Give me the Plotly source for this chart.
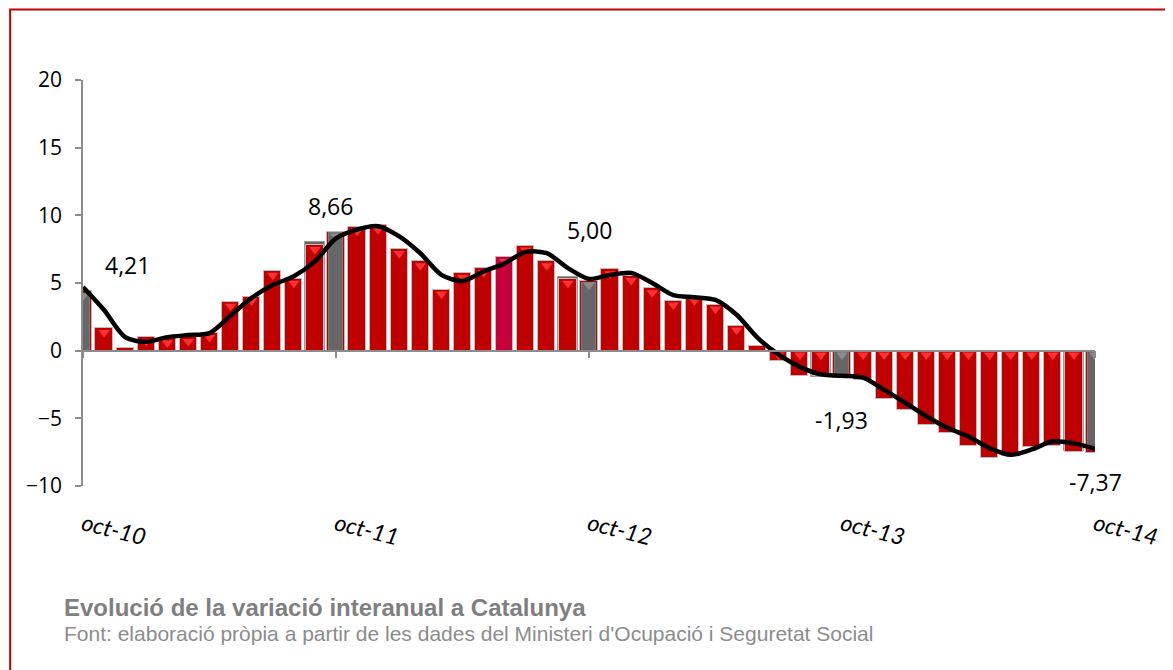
import plotly.graph_objects as go

# ---------------- data ----------------
tick_idx = [0, 12, 24, 36, 48]
tick_labels = ["oct-10", "oct-11", "oct-12", "oct-13", "oct-14"]

# monthly values oct-10 .. oct-14 (49 months), red series
red_vals = [4.38, 1.67, 0.2, 1.0, 0.9, 1.0, 1.3, 3.6, 4.0, 5.9, 5.3, 7.8,
            8.8, 9.15, 9.25, 7.5, 6.6, 4.5, 5.75, 6.1, 6.9, 7.75, 6.6, 5.3,
            5.15, 6.0, 5.5, 4.6, 3.7, 4.0, 3.4, 1.85, 0.35, -0.8, -1.9, -1.9,
            -2.05, -2.15, -3.6, -4.35, -5.5, -6.1, -7.05, -7.95, -7.8, -7.1, -7.05, -7.5,
            -7.55]

# gray series: september (behind) and october (in front) values
gray_sep_idx = [11, 23, 35, 47]
gray_sep_vals = [8.03, 5.42, -1.97, -7.43]
gray_oct_idx = [0, 12, 24, 36, 48]
gray_oct_vals = [4.21, 8.66, 5.00, -1.93, -7.37]
gray_oct_text = ["4,21", "8,66", "5,00", "-1,93", "-7,37"]

# smoothed trend line
line_vals = [4.7, 3.0, 1.0, 0.65, 1.0, 1.15, 1.3, 2.6, 3.9, 4.85, 5.5, 6.6,
             8.3, 8.95, 9.2, 8.45, 7.2, 5.6, 5.15, 5.85, 6.45, 7.3, 7.2, 6.1,
             5.3, 5.6, 5.75, 5.0, 4.1, 3.95, 3.75, 2.65, 0.95, -0.3, -1.2, -1.75,
             -1.85, -2.0, -2.9, -3.85, -4.85, -5.7, -6.35, -7.2, -7.7, -7.3, -6.7, -6.85,
             -7.25]

title_text = "Evolució de la variació interanual a Catalunya"
source_text = "Font: elaboració pròpia a partir de les dades del Ministeri d'Ocupació i Seguretat Social"

# ---------------- layout geometry ----------------
OFF = 8                      # page body margin in the browser
W, H = 1173 - OFF, 670 - OFF
ML, MT = 83 - OFF, 80 - OFF
MR = (OFF + W) - 1104
MB = (OFF + H) - 486
YMIN, YMAX = -10, 20
months = list(range(len(red_vals)))

def px2x(px):
    return (px - OFF - ML) / (W - ML - MR)

def py2y(py):
    return (OFF + H - MB - py) / (H - MT - MB)

RED = "#C00000"
GRAY = "#666666"
highlight = 20  # month drawn in crimson
red_colors = ["#C8003A" if i == highlight else RED for i in months]

fig = go.Figure()

# gray september bars (behind, wider)
fig.add_trace(go.Bar(x=gray_sep_idx, y=gray_sep_vals, width=0.92,
                     marker=dict(color=GRAY, line=dict(color="#9A9A9A", width=1)),
                     hoverinfo="skip", showlegend=False))
# red monthly bars
fig.add_trace(go.Bar(x=months, y=red_vals, width=0.82,
                     marker=dict(color=red_colors, line=dict(color="#BDBDBD", width=1)),
                     hoverinfo="skip", showlegend=False))
# gray october bars (in front, narrower)
fig.add_trace(go.Bar(x=gray_oct_idx, y=gray_oct_vals, width=0.66,
                     marker=dict(color=GRAY, line=dict(color="#7A7A7A", width=1)),
                     hoverinfo="skip", showlegend=False))

# bevel highlights at the top edge of each bar
bev_x, bev_y, bev_c = [], [], []
for i, v in enumerate(red_vals):
    if abs(v) < 0.6:
        continue
    top = max(v, 0)
    bev_x.append(i)
    bev_y.append(top - 0.32)
    bev_c.append("#8C8C8C" if i in gray_oct_idx else "#FF3030")
fig.add_trace(go.Scatter(x=bev_x, y=bev_y, mode="markers",
                         marker=dict(symbol="triangle-down", size=10, color=bev_c,
                                     line=dict(width=0)),
                         hoverinfo="skip", showlegend=False))

# trend line
fig.add_trace(go.Scatter(x=months, y=line_vals, mode="lines",
                         line=dict(color="black", width=4.5, shape="spline", smoothing=0.8),
                         hoverinfo="skip", showlegend=False))

# dummy trace for the zero axis
fig.add_trace(go.Scatter(x=[0], y=[0], xaxis="x2", mode="none",
                         hoverinfo="skip", showlegend=False))

# data labels
label_shift = [(44, 29), (-6, 27), (0, 53), (-1, -43), (0, -32)]
for xi, v, t, (dx, dy) in zip(gray_oct_idx, gray_oct_vals, gray_oct_text, label_shift):
    fig.add_annotation(x=xi, y=v, text=t, showarrow=False, xshift=dx, yshift=dy,
                       font=dict(family="Open Sans", size=23, color="#000000"))

# footer texts
fig.add_annotation(xref="paper", yref="paper", x=px2x(62), y=py2y(607), text="<b>" + title_text + "</b>",
                   showarrow=False, xanchor="left", yanchor="middle",
                   font=dict(family="Liberation Sans", size=24, color="#7F7F7F"))
fig.add_annotation(xref="paper", yref="paper", x=px2x(62), y=py2y(633), text=source_text,
                   showarrow=False, xanchor="left", yanchor="middle",
                   font=dict(family="Liberation Sans", size=21, color="#8C8C8C"))

# outer frame
fig.add_shape(type="rect", xref="paper", yref="paper",
              x0=px2x(9.5), x1=px2x(1200), y0=py2y(700), y1=py2y(9.5),
              line=dict(color="#C00000", width=2), fillcolor="rgba(0,0,0,0)", layer="above")

AXC = "#8C8C8C"
fig.update_layout(
    width=W, height=H,
    margin=dict(l=ML, r=MR, t=MT, b=MB, pad=0),
    plot_bgcolor="white", paper_bgcolor="white",
    barmode="overlay", bargap=0,
    xaxis=dict(range=[0, 48], tickvals=tick_idx, ticktext=tick_labels,
               tickangle=14, showline=False, showgrid=False, zeroline=False, ticks="",
               ticklabelstandoff=20,
               tickfont=dict(family="Lato", size=23, color="#000000", style="italic")),
    xaxis2=dict(range=[0, 48], overlaying="x", anchor="free",
                position=(0 - YMIN) / (YMAX - YMIN), side="bottom",
                showline=True, linecolor=AXC, linewidth=1.5,
                ticks="outside", ticklen=7, tickcolor=AXC, tickwidth=1.5,
                tickvals=tick_idx, showticklabels=False, showgrid=False, zeroline=False),
    yaxis=dict(range=[YMIN, YMAX], dtick=5, showgrid=False, zeroline=False,
               showline=True, linecolor=AXC, linewidth=1.5,
               ticks="outside", ticklen=6, tickcolor=AXC, tickwidth=1.5,
               ticklabelstandoff=9,
               tickfont=dict(family="Open Sans", size=21, color="#000000")),
)

fig.write_html("out.html")
